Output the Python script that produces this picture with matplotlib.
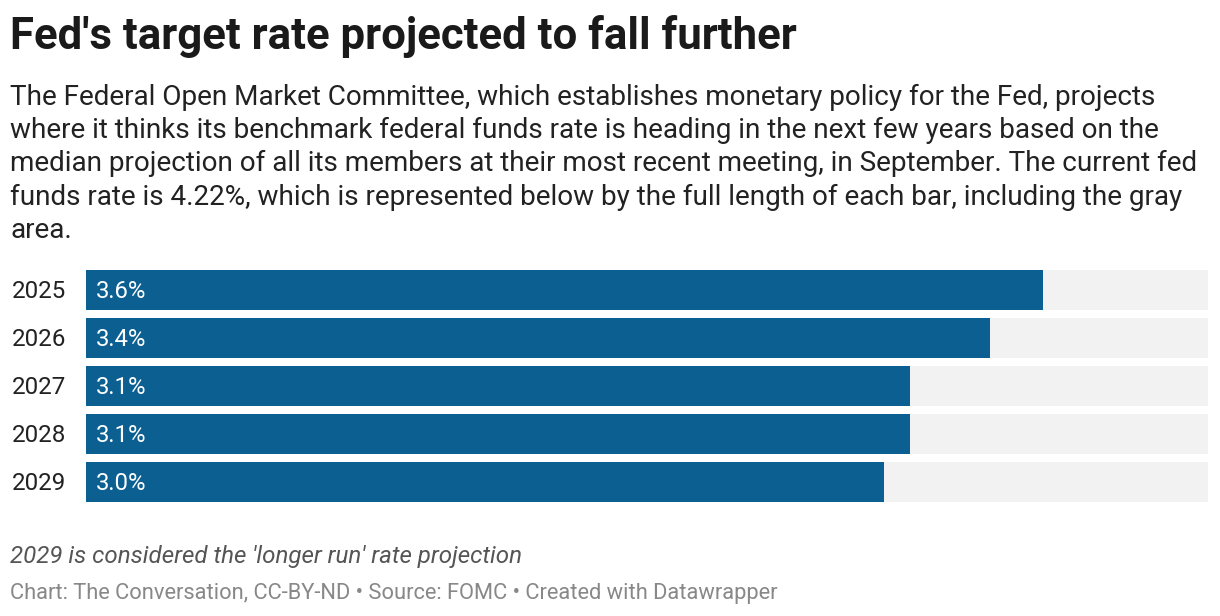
import matplotlib
matplotlib.use("Agg")
import matplotlib.pyplot as plt

years = ["2025", "2026", "2027", "2028", "2029"]
values = [3.6, 3.4, 3.1, 3.1, 3.0]
value_labels = ["3.6%", "3.4%", "3.1%", "3.1%", "3.0%"]
current_rate = 4.22

title = "Fed's target rate projected to fall further"
subtitle = ("The Federal Open Market Committee, which establishes monetary policy for the Fed, projects\n"
            "where it thinks its benchmark federal funds rate is heading in the next few years based on the\n"
            "median projection of all its members at their most recent meeting, in September. The current fed\n"
            "funds rate is 4.22%, which is represented below by the full length of each bar, including the gray\n"
            "area.")
note = "2029 is considered the 'longer run' rate projection"
source = "Chart: The Conversation, CC-BY-ND \u2022 Source: FOMC \u2022 Created with Datawrapper"

W, H = 1220, 616
fig = plt.figure(figsize=(W / 100, H / 100), dpi=100)
plt.rcParams['font.family'] = ['Roboto', 'DejaVu Sans']

def fx(x):
    return x / W

def fy(y):
    return 1 - y / H

fig.text(fx(10), fy(37), title, fontsize=31.5, fontweight='bold', color='#1a1a1a', va='center', ha='left')
fig.text(fx(10), fy(84), subtitle, fontsize=20.1, color='#222222', va='top', ha='left', linespacing=1.29)

ax_top, ax_bot = 266, 506
ax = fig.add_axes([fx(86), fy(ax_bot), fx(1208) - fx(86), (ax_bot - ax_top) / H])
n = len(years)
pos = list(range(n))
h = 40 / 48
ax.barh(pos, [current_rate] * n, height=h, color='#f2f2f2')
ax.barh(pos, values, height=h, color='#0b5f91')
ax.set_xlim(0, current_rate)
ax.set_ylim(n - 0.5, -0.5)
ax.axis('off')
for i in pos:
    ax.text(0.038, i + 0.04, value_labels[i], color='white', fontsize=17.2, va='center', ha='left')
    ax.text(-0.075, i + 0.04, years[i], color='#222222', fontsize=17.4, va='center', ha='right')

fig.text(fx(10), fy(557), note, fontsize=17.4, style='italic', color='#555555', va='center', ha='left')
fig.text(fx(10), fy(593), source, fontsize=15.75, color='#888888', va='center', ha='left')

fig.savefig("out.png", dpi=100)
